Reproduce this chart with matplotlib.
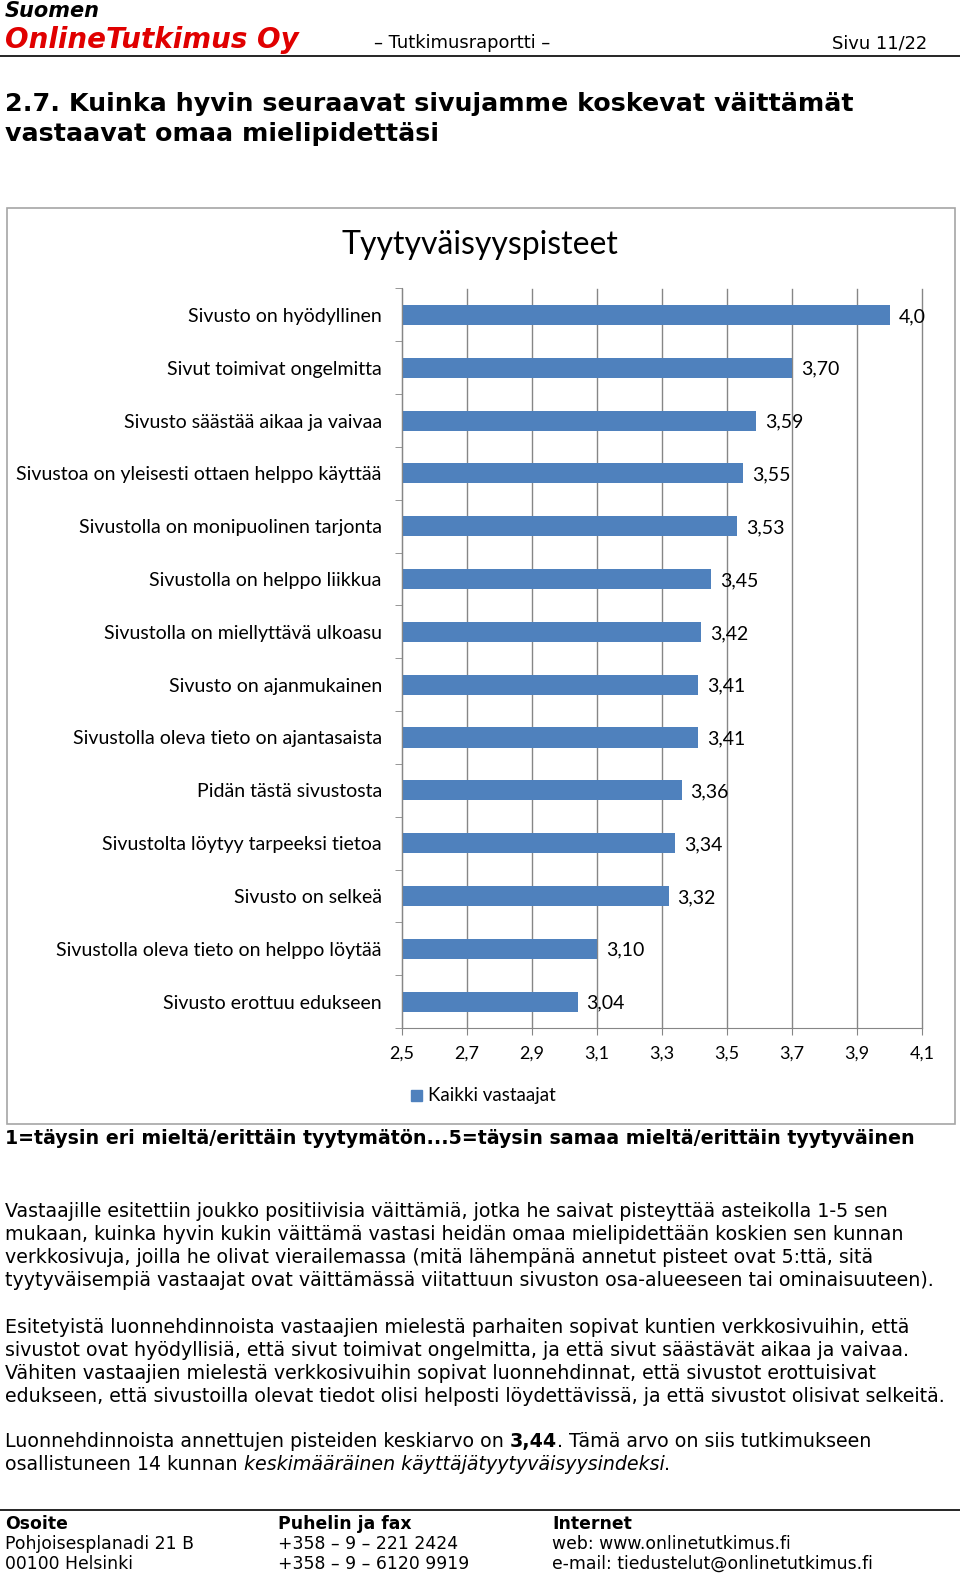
import matplotlib
matplotlib.use("Agg")
import matplotlib.pyplot as plt
from matplotlib.patches import Rectangle

# %% data
categories = [
    "Sivusto on hyödyllinen",
    "Sivut toimivat ongelmitta",
    "Sivusto säästää aikaa ja vaivaa",
    "Sivustoa on yleisesti ottaen helppo käyttää",
    "Sivustolla on monipuolinen tarjonta",
    "Sivustolla on helppo liikkua",
    "Sivustolla on miellyttävä ulkoasu",
    "Sivusto on ajanmukainen",
    "Sivustolla oleva tieto on ajantasaista",
    "Pidän tästä sivustosta",
    "Sivustolta löytyy tarpeeksi tietoa",
    "Sivusto on selkeä",
    "Sivustolla oleva tieto on helppo löytää",
    "Sivusto erottuu edukseen",
]
scores = [4.0, 3.70, 3.59, 3.55, 3.53, 3.45, 3.42, 3.41, 3.41, 3.36, 3.34, 3.32, 3.10, 3.04]
score_labels = ["4,0", "3,70", "3,59", "3,55", "3,53", "3,45", "3,42", "3,41", "3,41",
                "3,36", "3,34", "3,32", "3,10", "3,04"]
x_ticks = [2.5, 2.7, 2.9, 3.1, 3.3, 3.5, 3.7, 3.9, 4.1]
x_tick_labels = ["2,5", "2,7", "2,9", "3,1", "3,3", "3,5", "3,7", "3,9", "4,1"]
series_name = "Kaikki vastaajat"

para1 = [
    "Vastaajille esitettiin joukko positiivisia väittämiä, jotka he saivat pisteyttää asteikolla 1-5 sen",
    "mukaan, kuinka hyvin kukin väittämä vastasi heidän omaa mielipidettään koskien sen kunnan",
    "verkkosivuja, joilla he olivat vierailemassa (mitä lähempänä annetut pisteet ovat 5:ttä, sitä",
    "tyytyväisempiä vastaajat ovat väittämässä viitattuun sivuston osa-alueeseen tai ominaisuuteen).",
]
para2 = [
    "Esitetyistä luonnehdinnoista vastaajien mielestä parhaiten sopivat kuntien verkkosivuihin, että",
    "sivustot ovat hyödyllisiä, että sivut toimivat ongelmitta, ja että sivut säästävät aikaa ja vaivaa.",
    "Vähiten vastaajien mielestä verkkosivuihin sopivat luonnehdinnat, että sivustot erottuisivat",
    "edukseen, että sivustoilla olevat tiedot olisi helposti löydettävissä, ja että sivustot olisivat selkeitä.",
]

W, H = 960, 1576
BAR_BLUE = "#4F81BD"
GRID = "#868686"
DOC_FONT = "DejaVu Sans"
CHART_FONT = "Lato"
BODY = 13.7

fig = plt.figure(figsize=(W / 100, H / 100), dpi=100)


def put(x, y, s, **kw):
    kw.setdefault("family", DOC_FONT)
    kw.setdefault("fontsize", BODY)
    kw.setdefault("va", "baseline")
    return fig.text(x / W, 1 - y / H, s, **kw)


def after(prev, s, **kw):
    # continue a line right after the previous text piece
    kw.setdefault("family", DOC_FONT)
    kw.setdefault("fontsize", BODY)
    return plt.annotate(s, xy=(1, 0), xycoords=prev, va="bottom", ha="left",
                        annotation_clip=False, **kw)


# %% page header
put(5, 17, "Suomen", fontsize=15, weight="bold", style="italic")
put(5, 48, "OnlineTutkimus Oy", fontsize=20, weight="bold", style="italic", color="#E00000")
put(374, 48, "– Tutkimusraportti –", fontsize=12.9)
put(927, 48, "Sivu 11/22", fontsize=12.9, ha="right")
fig.add_artist(plt.Line2D([0, 960 / W], [1 - 55.5 / H, 1 - 55.5 / H], color="black", lw=1.2))

put(5, 110.5, "2.7. Kuinka hyvin seuraavat sivujamme koskevat väittämät", fontsize=18.3, weight="bold")
put(5, 141.5, "vastaavat omaa mielipidettäsi", fontsize=18.3, weight="bold")

# %% chart frame
fig.add_artist(Rectangle((7 / W, 1 - 1124 / H), 948 / W, 916 / H, transform=fig.transFigure,
                         fill=False, edgecolor="#A6A6A6", lw=1.2))
put(480, 254, "Tyytyväisyyspisteet", family=CHART_FONT, fontsize=23, ha="center")

ax = fig.add_axes([402 / W, 1 - 1028 / H, 520 / W, 739.5 / H])
ypos = list(range(len(categories)))
ax.barh(ypos, scores, height=0.38, color=BAR_BLUE, zorder=2)
ax.set_xlim(2.5, 4.1)
ax.set_ylim(len(categories) - 0.5, -0.5)
ax.set_xticks(x_ticks)
ax.set_xticklabels(x_tick_labels, family=CHART_FONT, fontsize=13)
ax.set_yticks(ypos)
ax.set_yticklabels(categories, family=CHART_FONT, fontsize=14)
ax.set_yticks([i - 0.5 for i in range(len(categories) + 1)], minor=True)
ax.tick_params(axis="y", which="major", length=0, pad=14.5)
ax.tick_params(axis="y", which="minor", length=5, color=GRID)
ax.tick_params(axis="x", length=5, color=GRID, pad=8)
ax.grid(axis="x", color=GRID, lw=1, zorder=1)
for gl in ax.get_xgridlines():
    gl.set_clip_on(False)
for side in ["top", "right"]:
    ax.spines[side].set_visible(False)
ax.spines["left"].set_color(GRID)
ax.spines["bottom"].set_color(GRID)
for i, (v, lab) in enumerate(zip(scores, score_labels)):
    ax.text(v + 0.028, i + 0.03, lab, family=CHART_FONT, fontsize=14, va="center", ha="left", zorder=3)

# legend
fig.add_artist(Rectangle((411 / W, 1 - 1101 / H), 11 / W, 11 / H, transform=fig.transFigure,
                         color=BAR_BLUE))
put(428, 1101, series_name, family=CHART_FONT, fontsize=13.5)

# %% text under chart
put(5, 1144, "1=täysin eri mieltä/erittäin tyytymätön...5=täysin samaa mieltä/erittäin tyytyväinen",
    fontsize=13.7, weight="bold")

y = 1217
for line in para1:
    put(5, y, line)
    y += 22.9
y = 1333
for line in para2:
    put(5, y, line)
    y += 22.9

t1 = put(5, 1447, "Luonnehdinnoista annettujen pisteiden keskiarvo on ")
t2 = after(t1, "3,44", weight="bold")
after(t2, ". Tämä arvo on siis tutkimukseen")
t4 = put(5, 1470, "osallistuneen 14 kunnan ")
t5 = after(t4, "keskimääräinen käyttäjätyytyväisyysindeksi", style="italic")
after(t5, ".")

# %% footer
fig.add_artist(plt.Line2D([0, 960 / W], [1 - 1509.5 / H, 1 - 1509.5 / H], color="black", lw=1.2))
cols = [(5, "Osoite", "Pohjoisesplanadi 21 B", "00100 Helsinki"),
        (278, "Puhelin ja fax", "+358 – 9 – 221 2424", "+358 – 9 – 6120 9919"),
        (552, "Internet", "web: www.onlinetutkimus.fi", "e-mail: tiedustelut@onlinetutkimus.fi")]
for x0, head, l1, l2 in cols:
    put(x0, 1529, head, weight="bold", fontsize=12.4)
    put(x0, 1549, l1, fontsize=12.4)
    put(x0, 1569, l2, fontsize=12.4)

fig.savefig("out.png", dpi=100)
